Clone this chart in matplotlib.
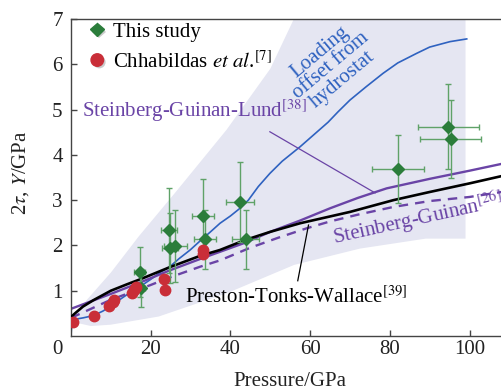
import matplotlib
matplotlib.use("Agg")
import matplotlib.pyplot as plt
from matplotlib.lines import Line2D
from matplotlib import patheffects as pe

plt.rcParams['font.family'] = ['Liberation Serif', 'DejaVu Serif']
plt.rcParams['mathtext.fontset'] = 'stix'

# ---- This study (green diamonds with error bars) ----
study_p = [17.2, 17.5, 24.7, 24.9, 26.2, 33.2, 33.6, 42.4, 43.8, 82.1, 94.7, 95.3]
study_y = [1.41, 1.05, 2.33, 1.95, 1.99, 2.66, 2.14, 2.96, 2.14, 3.69, 4.62, 4.35]
study_xerr = [1.3, 1.0, 2.0, 2.0, 2.8, 2.8, 2.8, 3.5, 3.5, 6.6, 7.6, 7.6]
study_yerr = [0.55, 0.42, 0.94, 0.77, 0.80, 0.80, 0.65, 0.89, 0.65, 0.75, 0.94, 0.86]

# ---- Chhabildas et al. (red circles) ----
chh_p = [0.4, 5.8, 9.6, 10.6, 10.8, 15.4, 15.9, 16.2, 23.3, 23.5, 33.0, 33.0]
chh_y = [0.32, 0.44, 0.66, 0.75, 0.80, 0.95, 1.02, 1.08, 1.25, 1.02, 1.90, 1.81]

# ---- Loading offset from hydrostat (blue) ----
load_p = [0, 0.2, 1, 3, 5.6, 8, 10, 12.5, 15.5, 17.3, 20, 22.3, 24.8, 27, 29.9,
          32.4, 35, 37.4, 40, 42.4, 44.5, 47, 49.9, 53, 57.5, 61, 64.5, 67, 70,
          74, 78.3, 82, 86.7, 90, 95.1, 99.3]
load_y = [0.0, 0.3, 0.37, 0.40, 0.45, 0.55, 0.66, 0.82, 1.0, 1.09, 1.25, 1.4,
          1.53, 1.7, 1.9, 2.1, 2.3, 2.49, 2.65, 2.82, 3.0, 3.3, 3.59, 3.86, 4.18,
          4.45, 4.72, 4.95, 5.21, 5.5, 5.8, 6.03, 6.24, 6.38, 6.5, 6.56]

# ---- Preston-Tonks-Wallace (black) ----
ptw_p = [0, 1, 3, 5.6, 10, 14, 17.3, 24.8, 32.4, 37.4, 43.7, 50, 57.5, 64, 70,
         80.9, 90, 100, 108]
ptw_y = [0.42, 0.5, 0.65, 0.79, 1.0, 1.14, 1.25, 1.52, 1.77, 1.9, 2.12, 2.3,
         2.49, 2.62, 2.74, 3.0, 3.18, 3.37, 3.53]

# ---- Steinberg-Guinan-Lund (purple solid) ----
sgl_p = [0, 10, 17.3, 24.8, 33, 43.7, 50, 57.5, 65, 72, 79.2, 90, 100, 108]
sgl_y = [0.6, 0.93, 1.18, 1.45, 1.72, 2.06, 2.3, 2.55, 2.82, 3.05, 3.26, 3.47,
         3.65, 3.8]

# ---- Steinberg-Guinan (purple dashed) ----
sg_p = [0, 5, 10, 19.8, 25, 32.4, 37.4, 45, 52, 59.2, 65, 72, 80.9, 90, 100, 108]
sg_y = [0.4, 0.6, 0.8, 1.12, 1.3, 1.53, 1.67, 1.95, 2.17, 2.38, 2.53, 2.68,
        2.85, 2.98, 3.07, 3.18]

# ---- Shaded envelope ----
band_upper_p = [1, 4, 10, 17, 26, 39, 50, 57, 99]
band_upper_y = [0.45, 0.8, 1.4, 2.2, 3.15, 4.55, 5.9, 7.2, 7.2]
band_lower_p = [99, 89, 72.5, 56, 39, 22, 10, 5, 2, 1]
band_lower_y = [2.15, 2.15, 1.93, 1.57, 0.94, 0.43, 0.25, 0.22, 0.28, 0.35]

green = '#2b7d3b'
green_err = '#5fa268'
red = '#c92e38'
blue = '#2f62c0'
purple = '#6a44a6'
band = '#e5e6f2'

fig = plt.figure(figsize=(5.01, 3.90), dpi=100)
ax = fig.add_axes([71 / 501, 1 - 336 / 390, 1 - 71 / 501, (336 - 19) / 390])
ax.set_xlim(0, 107.9)
ax.set_ylim(0, 7)

ax.fill(band_upper_p + band_lower_p, band_upper_y + band_lower_y,
        color=band, lw=0, zorder=0)

ax.plot(load_p, load_y, color=blue, lw=1.2, zorder=2)
ax.plot(sg_p, sg_y, color=purple, lw=1.7, ls=(0, (4, 3)), zorder=2)
ax.plot(sgl_p, sgl_y, color=purple, lw=1.7, zorder=2)
ax.plot(ptw_p, ptw_y, color='black', lw=1.9, zorder=3)

ax.errorbar(study_p, study_y, xerr=study_xerr, yerr=study_yerr, fmt='none',
            ecolor=green_err, elinewidth=1.0, capsize=2, capthick=1.0, zorder=4)
ax.plot(study_p, study_y, 'D', color=green, ms=6, mec=green, zorder=5, ls='none')
ax.plot(chh_p, chh_y, 'o', color=red, ms=7.5, mec=red, zorder=5, ls='none')

# Annotations
ax.text(2.7, 4.85, 'Steinberg-Guinan-Lund$^{[38]}$', color=purple, fontsize=15,
        ha='left', va='baseline')
ax.plot([49.9, 76.3], [4.51, 3.16], color=purple, lw=0.9, zorder=2)

ax.text(28.6, 0.735, 'Preston-Tonks-Wallace$^{[39]}$', color='black', fontsize=15,
        ha='left', va='baseline')
ax.plot([56.9, 59.6], [1.22, 2.45], color='black', lw=0.9, zorder=3)

ax.text(66.0, 2.02, 'Steinberg-Guinan$^{[26]}$', color=purple, fontsize=15,
        ha='left', va='baseline', rotation=12.5, rotation_mode='anchor',
        clip_on=False)

ax.text(65.2, 5.96, 'Loading\noffset from\nhydrostat', color=blue, fontsize=15,
        ha='center', va='center', multialignment='center', rotation=40,
        rotation_mode='anchor', linespacing=0.9)

# Legend
shadow = [pe.SimplePatchShadow(offset=(1.5, -1.5), shadow_rgbFace='#999999', alpha=0.5),
          pe.Normal()]
handles = [
    Line2D([], [], marker='D', color=green, ms=7, ls='none', path_effects=shadow),
    Line2D([], [], marker='o', color=red, ms=9, ls='none', path_effects=shadow),
]
labels = ['This study', 'Chhabildas $\\it{et\\ al}$.$^{[7]}$']
ax.legend(handles, labels, loc='upper left', bbox_to_anchor=(0.003, 1.036),
          frameon=False, fontsize=15, handlelength=1.0, handletextpad=0.25,
          labelspacing=0.44, borderaxespad=0.3)

# Axes styling
spine_c = '#444444'
for side in ('left', 'bottom', 'top'):
    ax.spines[side].set_color(spine_c)
    ax.spines[side].set_linewidth(1.0)
ax.spines['right'].set_visible(False)

ax.set_xticks([20, 40, 60, 80, 100])
ax.set_yticks([1, 2, 3, 4, 5, 6, 7])
ax.tick_params(direction='in', length=4, width=1.0, color=spine_c,
               labelsize=15, labelcolor='#222222')
ax.tick_params(axis='x', pad=3)
ax.tick_params(axis='y', pad=6)
ax.tick_params(top=False, right=False)

fig.text(57 / 501, 1 - 350 / 390, '0', fontsize=15, color='#222222',
         ha='center', va='center')
fig.text(290 / 501, 1 - 381 / 390, 'Pressure/GPa', fontsize=15, color='#222222',
         ha='center', va='center')
fig.text(21 / 501, 1 - 173 / 390, '2$\\tau$, $Y$/GPa', fontsize=15, color='#222222',
         ha='center', va='center', rotation=90)

fig.savefig('out.png', dpi=100)
